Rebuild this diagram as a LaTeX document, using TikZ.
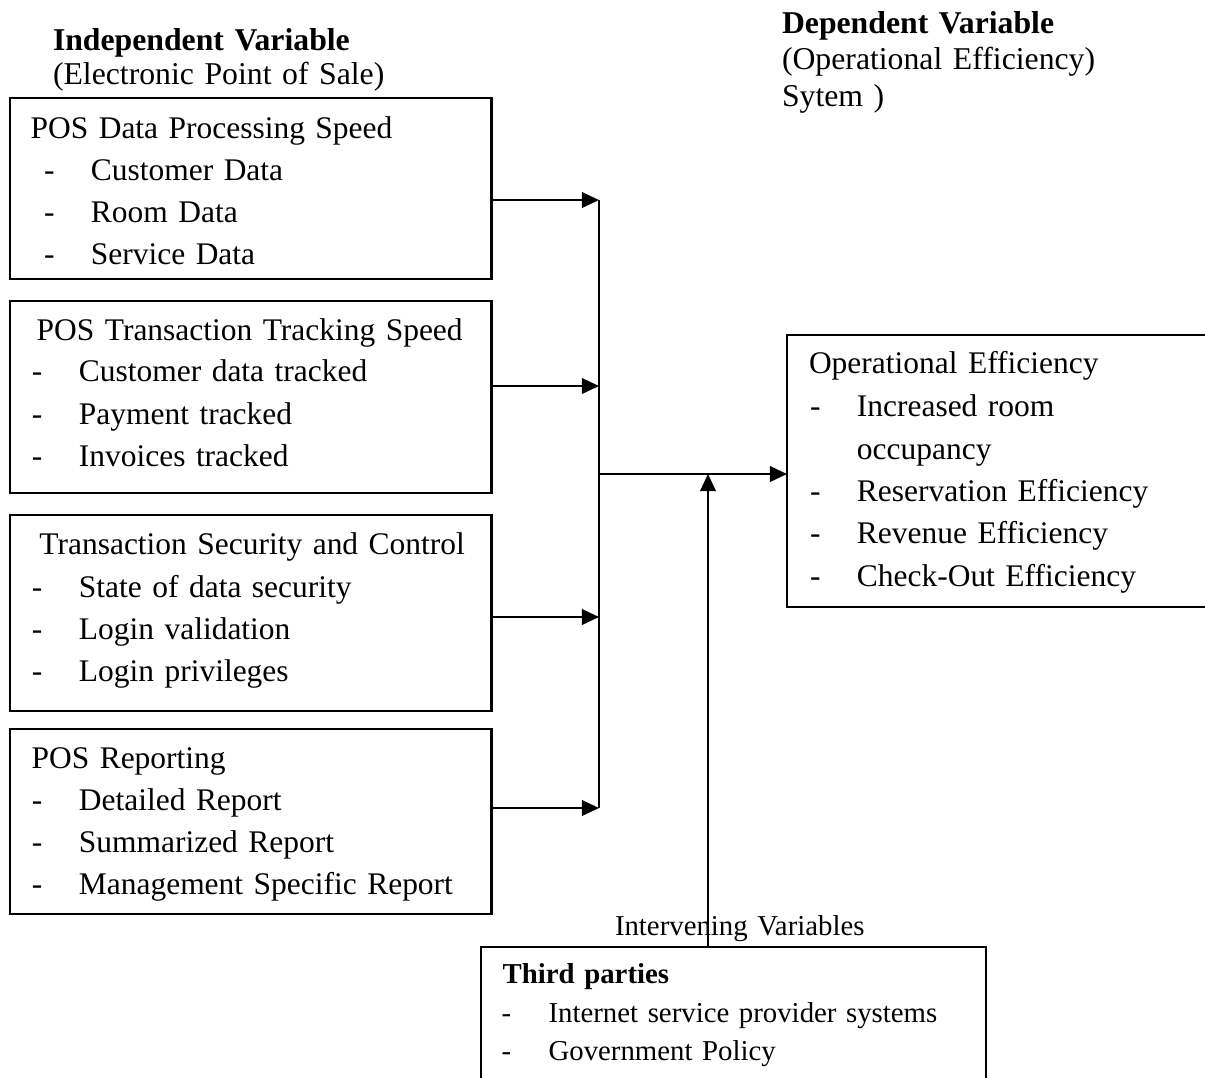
\documentclass[tikz,border=0pt]{standalone}
\usepackage{fontspec}
\setmainfont{Liberation Serif}
\usepackage{tikz}
\usetikzlibrary{arrows.meta}

\newcommand{\upx}{0.375pt}
\newcommand{\ditem}[1]{\makebox[17.6pt][l]{-}#1}

\begin{document}
\begin{tikzpicture}[
	x = 0.375pt, y = -0.375pt,
	every node/.style = {inner sep = 0pt, outer sep = 0pt},
	box/.style = {draw, line width = 0.8pt, anchor = north west},
	txt/.style = {anchor = base west, text width = 230pt, align = left, font = \fontsize{11.8}{15.9}\selectfont},
	small/.style = {txt, font = \fontsize{10.8}{14.4}\selectfont},
	arr/.style = {line width = 0.9pt, -{Triangle[length = 6.4pt, width = 5.8pt]}}
]
\useasboundingbox (0,0) rectangle (1205,1077);
\clip (0,0) rectangle (1205,1077);

% headings
\node[txt, font = \fontsize{11.9}{13.1}\selectfont] (indep) at (53,50)
	{\textbf{Independent Variable}\\(Electronic Point of Sale)};
\node[txt, font = \fontsize{11.9}{13.7}\selectfont] (dep) at (782,33)
	{\textbf{Dependent Variable}\\(Operational Efficiency)\\Sytem )};

% independent variable boxes
\node[box, minimum width = 481.5*\upx, minimum height = 181*\upx] (procbox) at (10,98) {};
\node[txt] (proctitle) at (30.6,138) {POS Data Processing Speed};
\node[txt] (proclist) at (44,180)
	{\ditem{Customer Data}\\\ditem{Room Data}\\\ditem{Service Data}};

\node[box, minimum width = 481.5*\upx, minimum height = 192*\upx] (trackbox) at (10,301) {};
\node[txt] (tracktitle) at (36.7,340) {POS Transaction Tracking Speed};
\node[txt] (tracklist) at (32,381.7)
	{\ditem{Customer data tracked}\\\ditem{Payment tracked}\\\ditem{Invoices tracked}};

\node[box, minimum width = 481.5*\upx, minimum height = 196*\upx] (secbox) at (10,515) {};
\node[txt] (sectitle) at (39.5,554) {Transaction Security and Control};
\node[txt] (seclist) at (32,597)
	{\ditem{State of data security}\\\ditem{Login validation}\\\ditem{Login privileges}};

\node[box, minimum width = 481.5*\upx, minimum height = 185*\upx] (repbox) at (10,729) {};
\node[txt] (reptitle) at (31.6,768) {POS Reporting};
\node[txt] (replist) at (32,810)
	{\ditem{Detailed Report}\\\ditem{Summarized Report}\\\ditem{Management Specific Report}};

% dependent variable box
\node[box, minimum width = 430*\upx, minimum height = 272*\upx] (effbox) at (787,335) {};
\node[txt] (efftitle) at (809,373) {Operational Efficiency};
\node[txt] (efflist) at (810,416.7)
	{\ditem{Increased room}\\\hspace*{17.6pt}occupancy\\\ditem{Reservation Efficiency}\\%
	\ditem{Revenue Efficiency}\\\ditem{Check-Out Efficiency}};

% intervening variables
\node[small] (interv) at (615,935) {Intervening Variables};
\node[box, minimum width = 505*\upx, minimum height = 160*\upx] (thirdbox) at (481,947) {};
\node[small] (thirdtitle) at (502.7,983) {\textbf{Third parties}};
\node[small] (thirdlist) at (501.7,1022)
	{\ditem{Internet service provider systems}\\\ditem{Government Policy}};

% connectors
\coordinate (b1) at (599,200);
\coordinate (b2) at (599,386);
\coordinate (b3) at (599,617);
\coordinate (b4) at (599,808);
\coordinate (join) at (599,474);
\coordinate (up) at (708,474);

\draw[line width = 0.8pt] (b1) -- (b4);
\foreach \b/\n in {procbox/b1, trackbox/b2, secbox/b3, repbox/b4}
	\draw[arr] (\n -| \b.east) -- (\n);
\draw[arr] (join) -- (join -| effbox.west);
\draw[arr] (thirdbox.north -| up) -- (up);
\end{tikzpicture}
\end{document}
